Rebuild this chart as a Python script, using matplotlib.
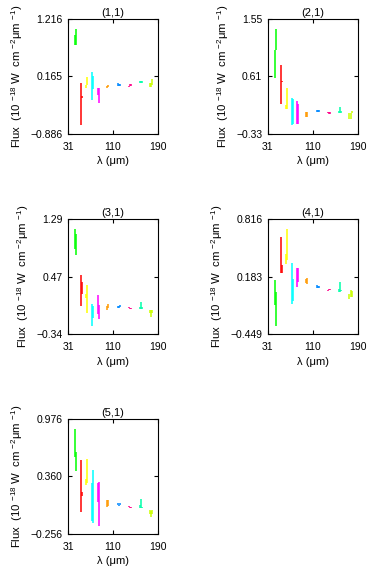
import numpy as np
import matplotlib
matplotlib.use('Agg')
import matplotlib.pyplot as plt

# ==============================================================================
# DADOS
# ==============================================================================
# comprimento de onda de cada coluna (um segmento = 2 ou 3 colunas)
wave = [44.0, 45.8,            # verde
        54.6, 56.4,            # vermelho
        63.5, 65.3,            # amarelo
        74.1, 75.9,            # ciano
        83.0, 84.8,            # magenta
        99.0, 100.7,           # laranja
        118.5, 120.2, 122.0,   # azul
        138.0, 139.7, 141.5,   # rosa
        157.5, 159.2, 161.0,   # verde-água
        175.2, 177.0, 178.8]   # verde-limão

seg_cores = ['#00ff00', '#ff0000', '#ffff00', '#00ffff', '#ff00ff',
             '#ff9900', '#0088ff', '#ff0088', '#00ffaa', '#ccff00']
seg_ncol = [2, 2, 2, 2, 2, 2, 3, 3, 3, 3]

titulos = ['(1,1)', '(2,1)', '(3,1)', '(4,1)', '(5,1)']

ytick_vals = [[-0.886, 0.165, 1.216],
              [-0.33, 0.61, 1.55],
              [-0.34, 0.47, 1.29],
              [-0.449, 0.183, 0.816],
              [-0.256, 0.360, 0.976]]
ytick_txt = [['−0.886', '0.165', '1.216'],
             ['−0.33', '0.61', '1.55'],
             ['−0.34', '0.47', '1.29'],
             ['−0.449', '0.183', '0.816'],
             ['−0.256', '0.360', '0.976']]

xtick_vals = [31, 110, 190]

flux_alto = [
    [0.927, 1.035, 0.041, -0.194, 0.011, 0.150, 0.240, 0.180, -0.049, -0.037,
     -0.013, 0.011, 0.041, 0.023, 0.023, -0.007, 0.023, 0.023,
     0.077, 0.089, 0.077, 0.041, 0.041, 0.113],
    [1.049, 1.388, 0.790, 0.537, 0.149, 0.424, 0.257, 0.246, 0.208, 0.160,
     0.031, 0.031, 0.063, 0.063, 0.063, 0.031, 0.031, 0.031,
     0.047, 0.111, 0.047, 0.015, 0.015, 0.047],
    [1.149, 1.079, 0.501, 0.402, 0.233, 0.360, 0.092, 0.064, 0.219, 0.078,
     0.064, 0.092, 0.055, 0.055, 0.069, 0.041, 0.031, 0.031,
     0.041, 0.120, 0.041, -0.006, -0.006, -0.006],
    [0.142, 0.018, 0.623, 0.313, 0.426, 0.710, 0.335, 0.152, 0.280, 0.273,
     0.160, 0.171, 0.087, 0.076, 0.076, 0.036, 0.047, 0.047,
     0.043, 0.127, 0.036, -0.004, 0.040, 0.025],
    [0.870, 0.617, 0.532, 0.199, 0.337, 0.543, 0.294, 0.426, 0.294, 0.305,
     0.103, 0.103, 0.071, 0.057, 0.074, 0.042, 0.032, 0.032,
     0.050, 0.117, 0.035, -0.004, -0.014, -0.004],
]
flux_baixo = [
    [0.734, 0.734, -0.730, -0.230, -0.037, 0.011, -0.260, -0.061, -0.182, -0.314,
     -0.049, -0.031, -0.001, -0.013, -0.013, -0.031, -0.013, -0.007,
     0.041, 0.041, 0.041, -0.031, -0.019, 0.011],
    [0.580, 1.049, 0.160, 0.521, 0.084, 0.084, -0.190, -0.174, -0.174, -0.174,
     -0.050, -0.050, 0.036, 0.036, 0.036, 0.020, 0.004, 0.004,
     0.020, 0.015, 0.020, -0.083, -0.083, 0.015],
    [0.858, 0.783, 0.064, 0.233, 0.177, -0.049, -0.227, -0.119, -0.058, -0.129,
     -0.002, 0.022, 0.022, 0.022, 0.036, 0.022, 0.012, 0.012,
     0.012, 0.012, 0.012, -0.049, -0.105, -0.049],
    [-0.125, -0.365, 0.218, 0.225, 0.317, 0.368, -0.121, -0.084, 0.069, 0.123,
     0.109, 0.098, 0.054, 0.054, 0.054, 0.025, 0.032, 0.032,
     0.010, 0.018, 0.025, -0.066, -0.041, -0.041],
    [0.568, 0.415, -0.022, 0.149, 0.266, 0.287, -0.121, -0.135, 0.089, -0.171,
     0.035, 0.042, 0.050, 0.039, 0.050, 0.032, 0.021, 0.021,
     0.021, 0.021, 0.021, -0.040, -0.071, -0.043],
]

# ==============================================================================
# FIGURA
# ==============================================================================
plt.rcParams['font.family'] = ['Liberation Sans', 'DejaVu Sans']
plt.rcParams['mathtext.fontset'] = 'custom'
plt.rcParams['mathtext.rm'] = 'Liberation Sans'
plt.rcParams['font.size'] = 8

fig = plt.figure(figsize=(3.7, 5.81), dpi=100)

posicoes = [[0.184, 0.7694, 0.2432, 0.198],
            [0.724, 0.7694, 0.2432, 0.198],
            [0.184, 0.4251, 0.2432, 0.198],
            [0.724, 0.4251, 0.2432, 0.198],
            [0.184, 0.0809, 0.2432, 0.198]]

cores_col = []
for c, n in zip(seg_cores, seg_ncol):
    cores_col += [c] * n

rotulo_y = (r'Flux  (10 $^{\mathrm{-18}}$ W  cm $^{\mathrm{-2}}$'
            r'μm $^{\mathrm{-1}}$)')

for i in range(5):
    ax = fig.add_axes(posicoes[i])
    ax.vlines(wave, flux_baixo[i], flux_alto[i], colors=cores_col,
              linewidth=1.1)

    ax.set_xlim(31, 190)
    ax.set_ylim(ytick_vals[i][0], ytick_vals[i][2])
    ax.set_xticks(xtick_vals)
    ax.set_xticklabels([str(v) for v in xtick_vals])
    ax.set_yticks(ytick_vals[i])
    ax.set_yticklabels(ytick_txt[i])
    ax.tick_params(direction='in', length=3, width=0.8, top=True, right=True,
                   labelsize=7.5, pad=4)
    ax.tick_params(axis='x', pad=6)
    for s in ax.spines.values():
        s.set_linewidth(0.8)

    ax.set_title(titulos[i], fontsize=8, pad=2)
    ax.set_xlabel('λ (μm)', fontsize=8, labelpad=3)
    ax.set_ylabel(rotulo_y, fontsize=8.2, labelpad=4)

fig.savefig('out.png', dpi=100)
plt.close(fig)
